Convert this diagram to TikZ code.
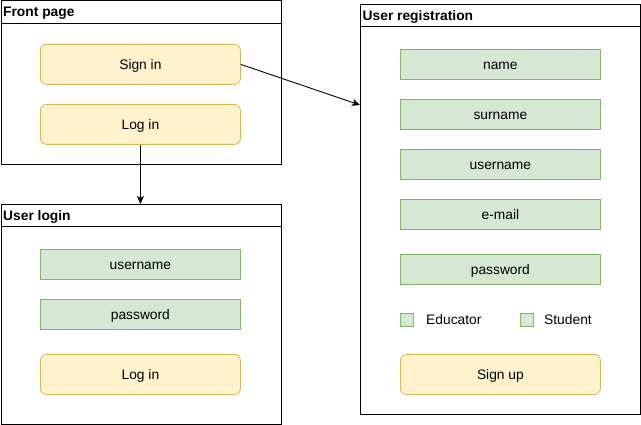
\documentclass[tikz,border=0pt]{standalone}
\usepackage{fontspec}
\setmainfont{Liberation Sans}
\usetikzlibrary{arrows.meta}
\definecolor{yfill}{HTML}{FFF2CC}
\definecolor{ydraw}{HTML}{D6B656}
\definecolor{gfill}{HTML}{D5E8D4}
\definecolor{gdraw}{HTML}{82B366}
\tikzset{
  frame/.style={draw=black, line width=1pt, anchor=north west, inner sep=0pt},
  title/.style={anchor=west, inner sep=0pt, font=\fontsize{13.8}{16}\selectfont\bfseries, text height=9.9pt, text depth=0pt},
  ybtn/.style={draw=ydraw, fill=yfill, line width=0.8pt, rounded corners=6pt, minimum width=200pt, minimum height=40pt, anchor=north west, font=\fontsize{13.8}{16}\selectfont, inner sep=0pt, text height=9.9pt, text depth=0pt},
  gfield/.style={draw=gdraw, fill=gfill, line width=0.8pt, minimum width=200pt, minimum height=30pt, anchor=north west, font=\fontsize{13.8}{16}\selectfont, inner sep=0pt, text height=9.9pt, text depth=0pt},
  cbox/.style={draw=gdraw, fill=gfill, line width=0.8pt, minimum size=13pt, anchor=north west, inner sep=0pt},
  lbl/.style={anchor=west, inner sep=0pt, font=\fontsize{13.8}{16}\selectfont, text height=9.9pt, text depth=0pt},
  conn/.style={draw=black, line width=0.9pt, -{Stealth[length=8pt,width=7pt,inset=2pt]}}
}
\begin{document}
\begin{tikzpicture}[x=1pt,y=-1pt]
\useasboundingbox (0,0) rectangle (641,425);
% Front page
\node[frame, minimum width=280pt, minimum height=164pt] (front) at (0.5,0.5) {};
\draw[line width=1pt] ([yshift=-23pt]front.north west) -- ([yshift=-23pt]front.north east);
\node[title] (fronttitle) at (3,12) {Front page};
\node[ybtn] (signin) at (40,44) {Sign in};
\node[ybtn] (login) at (40,104) {Log in};
% User login
\node[frame, minimum width=280pt, minimum height=220pt] (ulogin) at (0.5,204) {};
\draw[line width=1pt] ([yshift=-23pt]ulogin.north west) -- ([yshift=-23pt]ulogin.north east);
\node[title] (ulogintitle) at (3,216) {User login};
\node[gfield] (luser) at (40,249) {username};
\node[gfield] (lpass) at (40,299) {password};
\node[ybtn] (lbtn) at (40,354) {Log in};
% User registration
\node[frame, minimum width=280pt, minimum height=410pt] (reg) at (360,4) {};
\draw[line width=1pt] ([yshift=-23pt]reg.north west) -- ([yshift=-23pt]reg.north east);
\node[title] (regtitle) at (362.5,16) {User registration};
\node[gfield] (rname) at (400,49) {name};
\node[gfield] (rsurname) at (400,99) {surname};
\node[gfield] (ruser) at (400,149) {username};
\node[gfield] (rmail) at (400,199) {e-mail};
\node[gfield] (rpass) at (400,254) {password};
\node[cbox] (cbedu) at (400,313) {};
\node[lbl] (ledu) at (426,319.5) {Educator};
\node[cbox] (cbstu) at (520,313) {};
\node[lbl] (lstu) at (544,319.5) {Student};
\node[ybtn] (signup) at (400,354) {Sign up};
% connectors
\coordinate (regin) at (360,105);
\draw[conn] (signin.east) -- (regin);
\draw[conn] (login.south) -- (login.south |- ulogin.north);
\end{tikzpicture}
\end{document}
